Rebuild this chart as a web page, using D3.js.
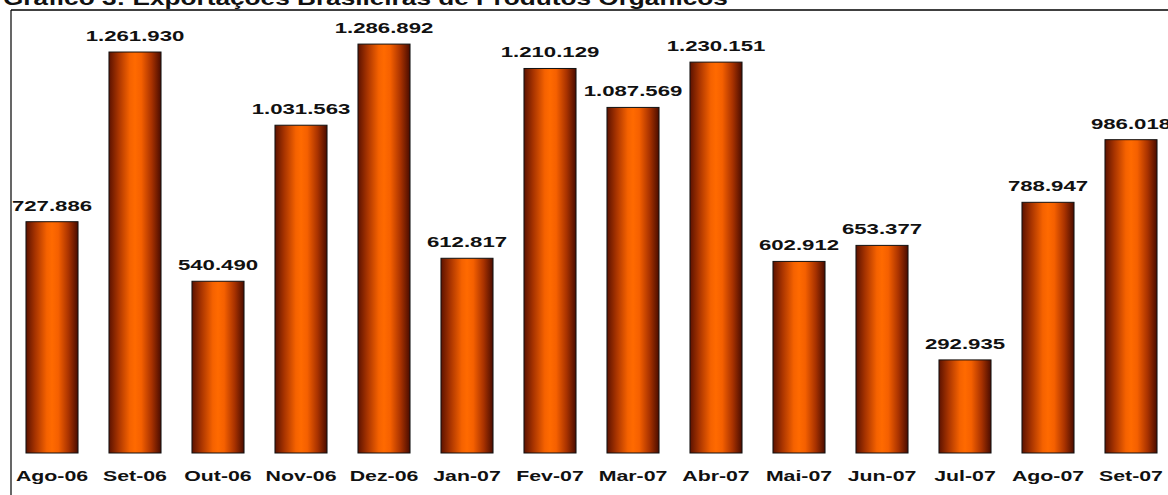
<!DOCTYPE html>
<html>
<head>
<meta charset="utf-8">
<script src="https://cdn.jsdelivr.net/npm/d3@7"></script>
<style>
  body { margin: 0; background: #fff; }
  svg { display: block; font-family: 'Liberation Sans', Arial, sans-serif; }
</style>
</head>
<body>
<svg id="chart"></svg>
<script>
const width = 1168;
const height = 495;

// data
const title = 'Gráfico 3: Exportações Brasileiras de Produtos Orgânicos';
const months = ['Ago-06', 'Set-06', 'Out-06', 'Nov-06', 'Dez-06', 'Jan-07', 'Fev-07',
  'Mar-07', 'Abr-07', 'Mai-07', 'Jun-07', 'Jul-07', 'Ago-07', 'Set-07'];
const values = [727886, 1261930, 540490, 1031563, 1286892, 612817, 1210129,
  1087569, 1230151, 602912, 653377, 292935, 788947, 986018];

const data = months.map((m, i) => ({ name: m, value: values[i] }));

const plot = { left: 11, top: 10, bottom: 453 };

const svg = d3.select('#chart')
  .attr('width', width)
  .attr('height', height)
  .attr('viewBox', `0 0 ${width} ${height}`);

// bar gradient, dark edges and orange centre
const grad = svg.append('defs').append('linearGradient')
  .attr('id', 'barGradient')
  .attr('x1', '0%').attr('x2', '100%')
  .attr('y1', '0%').attr('y2', '0%');
[
  ['0%', '#5c1200'],
  ['18%', '#a83400'],
  ['40%', '#f56200'],
  ['50%', '#ff6a00'],
  ['62%', '#f56000'],
  ['82%', '#a83200'],
  ['100%', '#4a0c00']
].forEach(([o, c]) => grad.append('stop').attr('offset', o).attr('stop-color', c));

const fmt = d3.formatLocale({ decimal: ',', thousands: '.', grouping: [3], currency: ['R$', ''] }).format(',d');

const xScale = d3.scaleBand()
  .domain(months)
  .range([10.5, 1172.5])
  .paddingInner(0.373)
  .paddingOuter(0.1865);

const yScale = d3.scaleLinear()
  .domain([0, 1391000])
  .range([plot.bottom, 11]);

// frame: top and left lines
svg.append('line')
  .attr('x1', plot.left).attr('x2', width)
  .attr('y1', plot.top).attr('y2', plot.top)
  .attr('stroke', '#000').attr('stroke-width', 1.6);
svg.append('line')
  .attr('x1', plot.left).attr('x2', plot.left)
  .attr('y1', plot.top).attr('y2', height)
  .attr('stroke', '#000').attr('stroke-width', 1.2);

// title, mostly cut off at the top
svg.append('text')
  .attr('transform', 'translate(3,5) scale(1.31,1)')
  .attr('font-size', 20)
  .attr('font-weight', 'bold')
  .attr('fill', '#111')
  .text(title);

// bars
svg.append('g')
  .selectAll('rect')
  .data(data)
  .join('rect')
  .attr('x', d => xScale(d.name))
  .attr('y', d => yScale(d.value))
  .attr('width', xScale.bandwidth())
  .attr('height', d => plot.bottom - yScale(d.value))
  .attr('fill', 'url(#barGradient)')
  .attr('stroke', '#111')
  .attr('stroke-width', 1);

// value labels
svg.append('g')
  .selectAll('text')
  .data(data)
  .join('text')
  .attr('transform', d => `translate(${xScale(d.name) + xScale.bandwidth() / 2},${yScale(d.value) - 11}) scale(1.48,1)`)
  .attr('text-anchor', 'middle')
  .attr('font-size', 15)
  .attr('font-weight', 'bold')
  .attr('fill', '#111')
  .text(d => fmt(d.value));

// category labels
const xAxis = d3.axisBottom(xScale).tickSize(0).tickPadding(0);
const axisG = svg.append('g')
  .attr('transform', `translate(0,${plot.bottom})`)
  .call(xAxis);
axisG.select('.domain').remove();
axisG.selectAll('text')
  .attr('y', 28)
  .attr('dy', 0)
  .attr('font-size', 15)
  .attr('font-weight', 'bold')
  .attr('font-family', "'Liberation Sans', Arial, sans-serif")
  .attr('fill', '#111')
  .attr('transform', 'scale(1.42,1)');
</script>
</body>
</html>
